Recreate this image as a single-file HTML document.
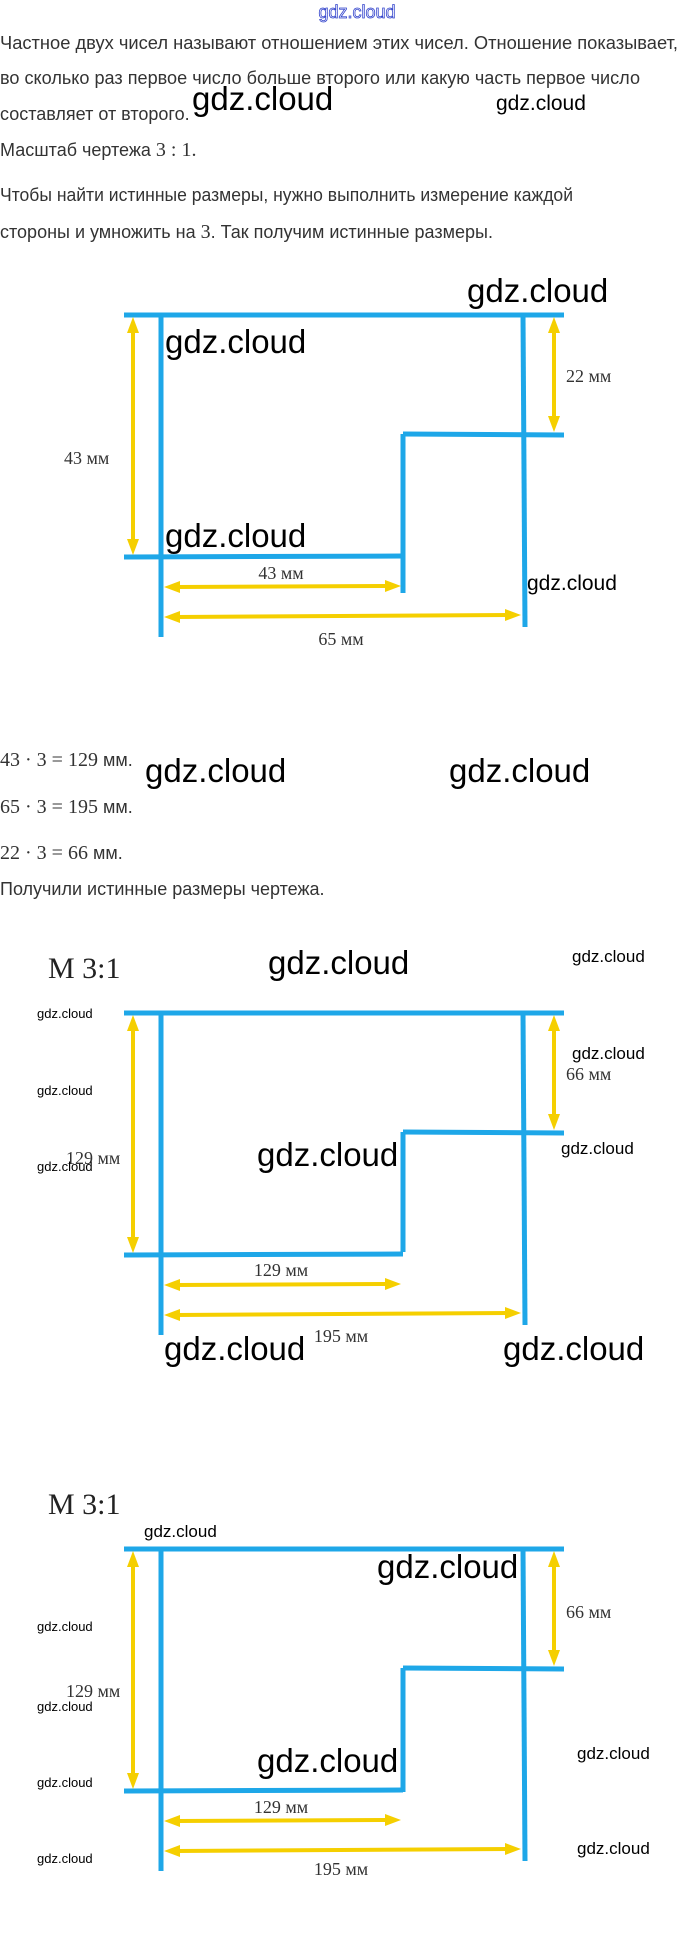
<!DOCTYPE html>
<html><head><meta charset="utf-8"><style>
html,body{margin:0;padding:0;background:#fff;}
svg{display:block;}
.t{font-family:"Liberation Sans",sans-serif;font-size:18px;fill:#333;}
.m{font-family:"Liberation Serif",serif;font-size:20px;fill:#333;}
.l{font-family:"Liberation Serif",serif;font-size:18px;fill:#333;}
.wb{font-family:"Liberation Sans",sans-serif;font-size:33px;fill:#000;}
.ws{font-family:"Liberation Sans",sans-serif;font-size:21px;fill:#000;}
.wt{font-family:"Liberation Sans",sans-serif;font-size:13px;fill:#000;}
.sc{font-family:"Liberation Serif",serif;font-size:30px;fill:#222;}
.b{stroke:#1ea7e8;stroke-width:5;fill:none;}
.y{stroke:#f5cf00;stroke-width:4;fill:none;}
.ah{fill:#f5cf00;}
</style></head><body>
<svg width="680" height="1944" viewBox="0 0 680 1944" xmlns="http://www.w3.org/2000/svg">
<defs>
<g id="dg">
 <line class="b" x1="124" y1="0" x2="564" y2="0"/>
 <line class="b" x1="161" y1="0" x2="161" y2="322"/>
 <line class="b" x1="523" y1="0" x2="525" y2="312"/>
 <line class="b" x1="403" y1="119" x2="564" y2="120"/>
 <line class="b" x1="124" y1="242" x2="403" y2="241"/>
 <line class="y" x1="133" y1="14" x2="133" y2="228"/>
 <polygon class="ah" points="133,2 127,18 139,18"/>
 <polygon class="ah" points="133,240 127,224 139,224"/>
 <line class="y" x1="554" y1="14" x2="554" y2="105"/>
 <polygon class="ah" points="554,2 548,18 560,18"/>
 <polygon class="ah" points="554,117 548,101 560,101"/>
</g>
<g id="hz">
 <line class="y" x1="176" y1="272" x2="389" y2="271"/>
 <polygon class="ah" points="164,272 180,266 180,278"/>
 <polygon class="ah" points="401,271 385,265 385,277"/>
 <line class="y" x1="176" y1="302" x2="509" y2="300"/>
 <polygon class="ah" points="164,302 180,296 180,308"/>
 <polygon class="ah" points="521,300 505,294 505,306"/>
</g>
</defs>

<text x="357" y="18" text-anchor="middle" style="font-family:'Liberation Sans',sans-serif;font-size:18px;fill:#fff;stroke:#3344cc;stroke-width:0.8">gdz.cloud</text>
<text class="t" x="0" y="49" textLength="678" lengthAdjust="spacingAndGlyphs">Частное двух чисел называют отношением этих чисел. Отношение показывает,</text>
<text class="t" x="0" y="84" textLength="640" lengthAdjust="spacingAndGlyphs">во сколько раз первое число больше второго или какую часть первое число</text>
<text class="t" x="0" y="120">составляет от второго.</text>
<text class="t" x="0" y="156">Масштаб чертежа <tspan class="m">3 : 1.</tspan></text>
<text class="t" x="0" y="201" textLength="573" lengthAdjust="spacingAndGlyphs">Чтобы найти истинные размеры, нужно выполнить измерение каждой</text>
<text class="t" x="0" y="238">стороны и умножить на <tspan class="m">3</tspan>. Так получим истинные размеры.</text>
<text class="wb" x="192" y="110">gdz.cloud</text>
<text class="ws" x="496" y="110">gdz.cloud</text>

<!-- diagram 1 -->
<g transform="translate(0,315)">
 <use href="#dg"/>
 <line class="b" x1="403" y1="119" x2="403" y2="278"/>
 <use href="#hz"/>
</g>
<text class="l" x="64" y="464">43 мм</text>
<text class="l" x="566" y="382">22 мм</text>
<text class="l" x="281" y="579" text-anchor="middle">43 мм</text>
<text class="l" x="341" y="645" text-anchor="middle">65 мм</text>
<text class="wb" x="467" y="302">gdz.cloud</text>
<text class="wb" x="165" y="353">gdz.cloud</text>
<text class="wb" x="165" y="547">gdz.cloud</text>
<text class="ws" x="527" y="590">gdz.cloud</text>

<text class="t" x="0" y="766"><tspan class="m">43 · 3 = 129</tspan> мм.</text>
<text class="t" x="0" y="813"><tspan class="m">65 · 3 = 195</tspan> мм.</text>
<text class="t" x="0" y="859"><tspan class="m">22 · 3 = 66</tspan> мм.</text>
<text class="t" x="0" y="895">Получили истинные размеры чертежа.</text>
<text class="wb" x="145" y="782">gdz.cloud</text>
<text class="wb" x="449" y="782">gdz.cloud</text>

<!-- diagram 2 -->
<text class="sc" x="48" y="978">M 3:1</text>
<g transform="translate(0,1013)">
 <use href="#dg"/>
 <line class="b" x1="403" y1="119" x2="403" y2="239"/>
 <use href="#hz"/>
</g>
<text class="l" x="66" y="1164">129 мм</text>
<text class="l" x="566" y="1080">66 мм</text>
<text class="l" x="281" y="1276" text-anchor="middle">129 мм</text>
<text class="l" x="341" y="1342" text-anchor="middle">195 мм</text>
<text class="wb" x="268" y="974">gdz.cloud</text>
<text class="ws" x="572" y="962" style="font-size:17px">gdz.cloud</text>
<text class="ws" x="572" y="1059" style="font-size:17px">gdz.cloud</text>
<text class="ws" x="561" y="1154" style="font-size:17px">gdz.cloud</text>
<text class="wt" x="37" y="1018">gdz.cloud</text>
<text class="wt" x="37" y="1095">gdz.cloud</text>
<text class="wt" x="37" y="1171">gdz.cloud</text>
<text class="wb" x="257" y="1166">gdz.cloud</text>
<text class="wb" x="164" y="1360">gdz.cloud</text>
<text class="wb" x="503" y="1360">gdz.cloud</text>

<!-- diagram 3 -->
<text class="sc" x="48" y="1514">M 3:1</text>
<g transform="translate(0,1549)">
 <use href="#dg"/>
 <line class="b" x1="403" y1="119" x2="403" y2="243"/>
 <use href="#hz"/>
</g>
<text class="l" x="66" y="1697">129 мм</text>
<text class="l" x="566" y="1618">66 мм</text>
<text class="l" x="281" y="1813" text-anchor="middle">129 мм</text>
<text class="l" x="341" y="1875" text-anchor="middle">195 мм</text>
<text class="ws" x="144" y="1537" style="font-size:17px">gdz.cloud</text>
<text class="wb" x="377" y="1578">gdz.cloud</text>
<text class="wt" x="37" y="1631">gdz.cloud</text>
<text class="wt" x="37" y="1711">gdz.cloud</text>
<text class="wt" x="37" y="1787">gdz.cloud</text>
<text class="wt" x="37" y="1863">gdz.cloud</text>
<text class="wb" x="257" y="1772">gdz.cloud</text>
<text class="ws" x="577" y="1759" style="font-size:17px">gdz.cloud</text>
<text class="ws" x="577" y="1854" style="font-size:17px">gdz.cloud</text>
</svg>
</body></html>
